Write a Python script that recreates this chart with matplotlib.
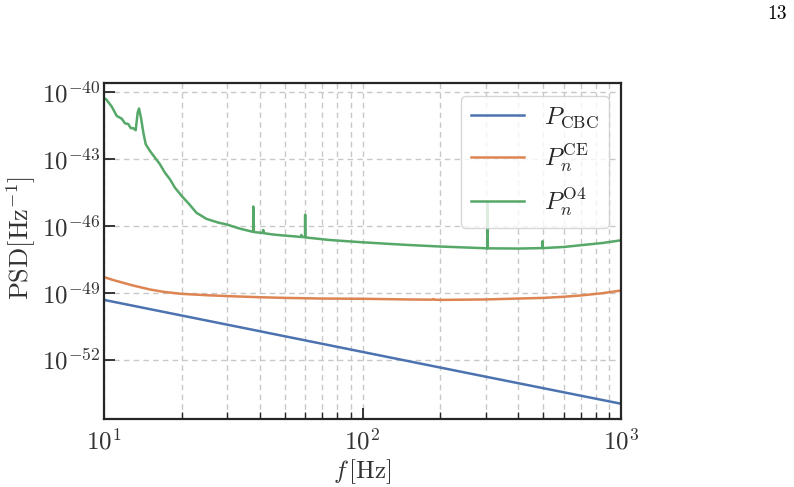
import numpy as np
import matplotlib
matplotlib.use("Agg")
import matplotlib.pyplot as plt
from matplotlib.ticker import LogLocator, NullLocator, NullFormatter

plt.rcParams['font.family'] = 'serif'
plt.rcParams['font.serif'] = ['cmr10']
plt.rcParams['mathtext.fontset'] = 'cm'
plt.rcParams['axes.formatter.use_mathtext'] = True

# ---- data (log10 PSD values) ----
cbc_freq = [10, 30, 100, 300, 1000]
cbc_log_psd = [-49.33, -50.44, -51.66, -52.77, -53.98]

ce_freq = [10, 11, 12, 13, 15, 17, 20, 25, 30, 40, 50, 70, 100, 150, 186, 188, 190,
           200, 300, 400, 500, 600, 700, 850, 1000]
ce_log_psd = [-48.31, -48.46, -48.58, -48.69, -48.86, -48.97, -49.06, -49.12, -49.16,
              -49.21, -49.24, -49.27, -49.28, -49.31, -49.32, -49.29, -49.32,
              -49.33, -49.31, -49.27, -49.24, -49.19, -49.13, -49.03, -48.91]

o4_freq = [10.0, 10.18, 10.71, 11.2, 11.7, 12.05, 12.4, 12.7, 12.98, 13.26, 13.5, 13.66,
           13.9, 14.2, 14.5, 15.06, 15.75, 16.47, 17.2, 18.0, 18.8, 19.99, 21.2, 22.8,
           24.9, 27.7, 29.8, 33.6, 36.7, 37.75, 37.8, 37.85, 38.5, 41.2, 41.3, 41.4,
           45, 50, 57.9, 58.0, 58.1, 59.95, 60.0, 60.05, 61, 75, 100, 150, 200,
           304.7, 305.0, 305.3, 400, 496, 497, 498, 600, 700, 850, 1000]
o4_log_psd = [-40.30, -40.34, -40.67, -41.09, -41.21, -41.42, -41.45, -41.64, -41.64, -41.73,
              -40.94, -40.76, -41.17, -41.84, -42.36, -42.66, -42.96, -43.26, -43.63, -43.93,
              -44.30, -44.68, -45.00, -45.43, -45.70, -45.87, -45.95, -46.14, -46.25,
              -46.28, -45.15, -46.28, -46.30, -46.33, -46.20, -46.34,
              -46.40, -46.45, -46.51, -46.42, -46.51, -46.52, -45.52, -46.52, -46.54,
              -46.65, -46.75, -46.87, -46.94,
              -47.02, -44.92, -47.02, -47.03, -47.01, -46.70, -47.01, -46.96, -46.88,
              -46.78, -46.66]

labels = [r'$P_{\rm CBC}$', r'$P_n^{\rm CE}$', r'$P_n^{\rm O4}$']
colors = ['#4C72B0', '#DD8452', '#55A868']
y_ticks_exp = [-52, -49, -46, -43, -40]

fig = plt.figure(figsize=(7.94, 4.87), dpi=100)
ax = fig.add_axes([104 / 794, 1 - 419 / 487, 517 / 794, 336 / 487])

for f, lp, lab, c in zip([cbc_freq, ce_freq, o4_freq],
                         [cbc_log_psd, ce_log_psd, o4_log_psd], labels, colors):
    ax.plot(f, 10.0 ** np.array(lp), color=c, lw=1.8, label=lab)

ax.set_xscale('log')
ax.set_yscale('log')
ax.set_xlim(10, 1000)
ax.set_yticks([10.0 ** e for e in y_ticks_exp])
ax.yaxis.set_minor_locator(NullLocator())
ax.yaxis.set_minor_formatter(NullFormatter())
ax.xaxis.set_minor_locator(LogLocator(base=10, subs=np.arange(2, 10), numticks=20))
ax.xaxis.set_minor_formatter(NullFormatter())

ax.grid(True, which='major', axis='both', color='#c8c8c8', ls=(0, (4, 3)), lw=1.0)
ax.grid(True, which='minor', axis='x', color='#c8c8c8', ls=(0, (4, 3)), lw=1.0)
ax.set_axisbelow(True)

ax.tick_params(which='both', direction='in', top=False, right=False, colors='#262626',
               labelsize=18, labelcolor='#333333')
ax.tick_params(which='major', length=8, width=1.3)
ax.tick_params(axis='x', which='major', pad=7)
ax.tick_params(axis='y', which='major', pad=2.5)
ax.tick_params(which='minor', length=5, width=1.0)
for s in ax.spines.values():
    s.set_color('#262626')
    s.set_linewidth(1.6)

ax.set_xlabel(r'$f\,$[Hz]', fontsize=18, color='#333333', labelpad=2)
ax.set_ylabel(r'PSD[Hz$^{-1}$]', fontsize=19, color='#333333')
ax.yaxis.set_label_coords(-0.128, 0.54)

leg = ax.legend(loc='upper right', fontsize=18, framealpha=0.8, edgecolor='#cccccc',
                fancybox=True, handlelength=2.1, labelspacing=0.45)
for t in leg.get_texts():
    t.set_color('#262626')

fig.text(777 / 794, 1 - 14 / 487, '13', fontsize=14, ha='center', va='center', color='black')

fig.savefig('out.png', dpi=100)
